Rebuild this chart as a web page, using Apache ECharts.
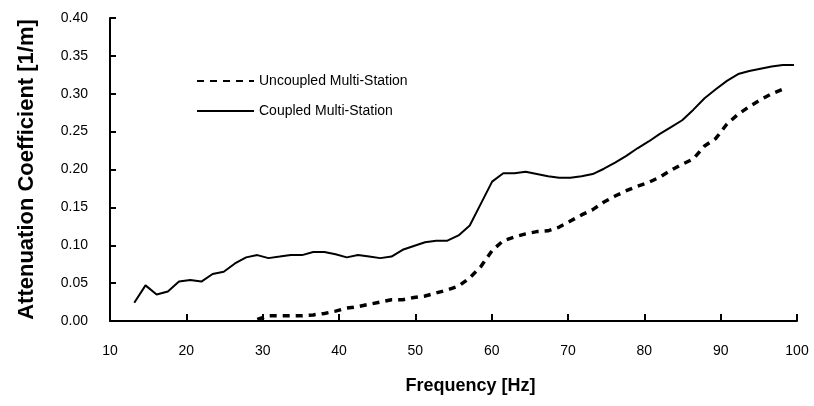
<!DOCTYPE html>
<html>
<head>
<meta charset="utf-8">
<script src="https://cdn.jsdelivr.net/npm/echarts@6/dist/echarts.min.js"></script>
<style>
  html, body { margin: 0; padding: 0; background: #fff; }
  #chart { width: 814px; height: 406px; }
</style>
</head>
<body>
<div id="chart"></div>
<script>
// frequency bins [Hz]
var freqCoupled = [13.18, 14.65, 16.11, 17.58, 19.04, 20.51, 21.97, 23.44, 24.90, 26.37,
    27.83, 29.30, 30.76, 32.23, 33.69, 35.16, 36.62, 38.09, 39.55, 41.02,
    42.48, 43.95, 45.41, 46.88, 48.34, 49.80, 51.27, 52.73, 54.20, 55.66,
    57.13, 58.59, 60.06, 61.52, 62.99, 64.45, 65.92, 67.38, 68.85, 70.31,
    71.78, 73.24, 74.71, 76.17, 77.64, 79.10, 80.57, 82.03, 83.50, 84.96,
    86.43, 87.89, 89.36, 90.82, 92.29, 93.75, 95.21, 96.68, 98.14, 99.61];
var coupled = [0.024, 0.047, 0.035, 0.039, 0.052, 0.054, 0.052, 0.062, 0.065, 0.076,
    0.084, 0.087, 0.083, 0.085, 0.087, 0.087, 0.091, 0.091, 0.088, 0.084,
    0.087, 0.085, 0.083, 0.085, 0.094, 0.099, 0.104, 0.106, 0.106, 0.113,
    0.126, 0.155, 0.184, 0.195, 0.195, 0.197, 0.194, 0.191, 0.189, 0.189,
    0.191, 0.194, 0.201, 0.209, 0.218, 0.228, 0.237, 0.247, 0.256, 0.265,
    0.279, 0.294, 0.306, 0.317, 0.326, 0.330, 0.333, 0.336, 0.338, 0.338];

var freqUncoupled = [29.30, 30.76, 32.23, 33.69, 35.16, 36.62, 38.09, 39.55, 41.02, 42.48,
    43.95, 45.41, 46.88, 48.34, 49.80, 51.27, 52.73, 54.20, 55.66, 57.13,
    58.59, 60.06, 61.52, 62.99, 64.45, 65.92, 67.38, 68.85, 70.31, 71.78,
    73.24, 74.71, 76.17, 77.64, 79.10, 80.57, 82.03, 83.50, 84.96, 86.43,
    87.89, 89.36, 90.82, 92.29, 93.75, 95.21, 96.68, 98.14];
var uncoupled = [0.002, 0.007, 0.007, 0.007, 0.007, 0.008, 0.010, 0.013, 0.017, 0.019,
    0.022, 0.025, 0.028, 0.028, 0.031, 0.033, 0.037, 0.041, 0.046, 0.057,
    0.072, 0.093, 0.106, 0.111, 0.115, 0.118, 0.119, 0.124, 0.132, 0.140,
    0.147, 0.157, 0.165, 0.172, 0.178, 0.183, 0.190, 0.199, 0.207, 0.214,
    0.231, 0.241, 0.260, 0.273, 0.283, 0.292, 0.300, 0.306];

var seriesNames = ['Uncoupled Multi-Station', 'Coupled Multi-Station'];

function pairs(xs, ys) {
    return xs.map(function (x, i) { return [x, ys[i]]; });
}

var chartDom = document.getElementById('chart');
var myChart = echarts.init(chartDom);
var option;

var font = 'Liberation Sans, Arial, sans-serif';

option = {
    animation: false,
    grid: {
        left: 110,
        right: 17,
        top: 18,
        bottom: 85,
        containLabel: false
    },
    legend: {
        orient: 'vertical',
        left: 191,
        top: 69,
        itemWidth: 57,
        itemHeight: 10,
        itemGap: 16,
        itemStyle: { opacity: 0 },   // line only, no marker in the key
        textStyle: {
            fontFamily: font,
            fontSize: 14,
            color: '#000'
        },
        data: seriesNames
    },
    xAxis: {
        type: 'value',
        min: 10,
        max: 100,
        interval: 10,
        name: 'Frequency [Hz]',
        nameLocation: 'middle',
        nameGap: 56,
        nameTextStyle: {
            fontFamily: font,
            fontSize: 18,
            fontWeight: 'bold',
            color: '#000',
            padding: [0, 0, 0, 34]
        },
        axisLine: { show: true, lineStyle: { color: '#000', width: 2 } },
        axisTick: { show: true, inside: true, length: 7, lineStyle: { color: '#000', width: 2 } },
        axisLabel: {
            fontFamily: font,
            fontSize: 14,
            color: '#000',
            margin: 23
        },
        splitLine: { show: false }
    },
    yAxis: {
        type: 'value',
        min: 0,
        max: 0.4,
        interval: 0.05,
        name: 'Attenuation Coefficient [1/m]',
        nameLocation: 'middle',
        nameGap: 72,
        nameTextStyle: {
            fontFamily: font,
            fontSize: 22,
            fontWeight: 'bold',
            color: '#000'
        },
        axisLine: { show: true, lineStyle: { color: '#000', width: 2 } },
        axisTick: { show: true, inside: true, length: 6, lineStyle: { color: '#000', width: 2 } },
        axisLabel: {
            fontFamily: font,
            fontSize: 14,
            color: '#000',
            margin: 22,
            formatter: function (value) {
                return value.toFixed(2);
            }
        },
        splitLine: { show: false }
    },
    series: [
        {
            name: seriesNames[0],
            type: 'line',
            data: pairs(freqUncoupled, uncoupled),
            symbol: 'none',
            smooth: false,
            color: '#000',
            lineStyle: { color: '#000', width: 3.5, type: [7, 6] }
        },
        {
            name: seriesNames[1],
            type: 'line',
            data: pairs(freqCoupled, coupled),
            symbol: 'none',
            smooth: false,
            color: '#000',
            lineStyle: { color: '#000', width: 2 }
        }
    ]
};

option && myChart.setOption(option);
</script>
</body>
</html>
